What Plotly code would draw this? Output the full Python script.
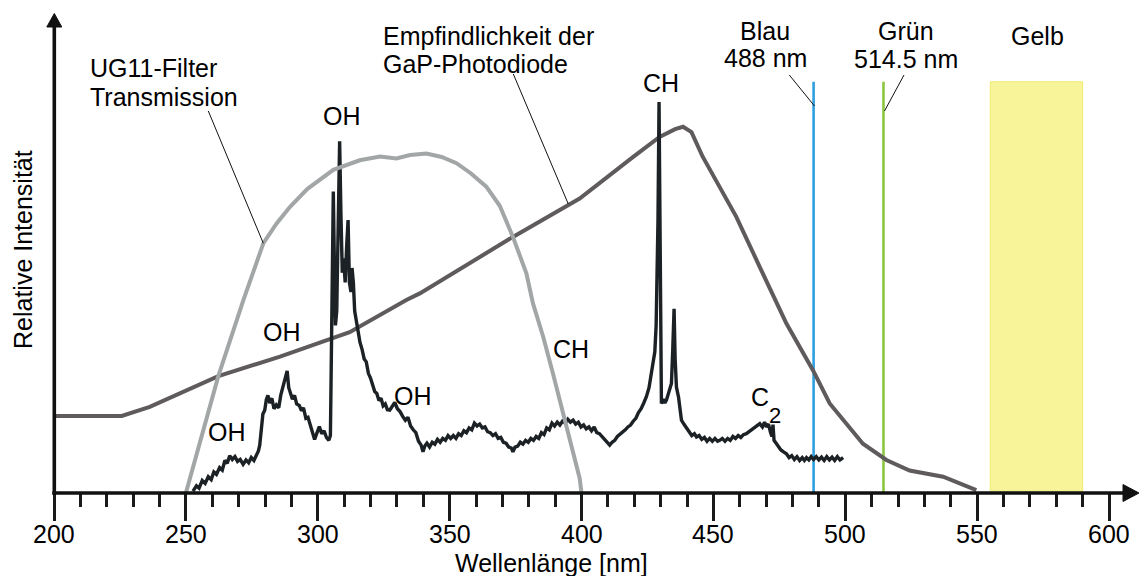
import plotly.graph_objects as go

# ---------------- data (wavelength in nm, relative intensity in arbitrary units) -------------
gap_nm = [200, 225.7, 236.3, 262.3, 285.7, 305.8, 312.1, 333.6, 338.7, 374.0, 394.3, 399.3,
          419.6, 429.6, 435.5, 438.5, 441.7, 445.9, 452.4, 458.7, 467.6, 477.7, 487.8, 494.1,
          506.7, 515.6, 524.4, 537.1, 549.7]
gap_val = [16.1, 16.1, 18.0, 24.4, 28.5, 32.3, 33.6, 40.3, 41.7, 53.5, 60.1, 61.5,
           70.2, 74.4, 76.0, 76.5, 75.4, 70.3, 63.9, 57.7, 47.2, 35.4, 25.6, 18.7,
           10.3, 6.9, 4.7, 3.4, 0.6]

ug11_nm = [250, 262.3, 271.8, 279.4, 284.4, 289.5, 296.0, 305.9, 315.9, 323.6, 329.8, 335.0,
           341.2, 347.0, 352.6, 358.0, 363.9, 369.0, 374.0, 379.1, 381.6, 385.5, 389.2, 394.3,
           399.3, 400]
ug11_val = [0.0, 24.4, 40.3, 52.2, 56.3, 59.8, 63.5, 67.5, 69.5, 70.3, 69.9, 70.6,
            70.9, 70.2, 68.9, 66.8, 64.0, 60.0, 53.5, 45.9, 39.6, 32.6, 24.9, 13.8,
            3.1, 0.0]

spectrum_points = [
    (252.7, 0.4), (254.0, 1.5), (255.0, 1.0), (256.2, 2.6), (257.3, 2.0), (258.5, 3.4),
    (259.6, 2.8), (260.6, 4.4), (261.6, 3.9), (262.8, 5.3), (263.8, 4.8), (264.8, 6.8),
    (265.7, 6.2), (266.6, 7.8), (267.6, 7.0), (268.6, 7.6), (269.6, 6.6), (270.6, 7.0),
    (271.7, 6.0), (272.8, 6.9), (273.8, 6.3), (274.8, 7.4), (275.8, 6.8), (276.7, 7.8),
    (277.5, 8.8), (278.0, 10.0), (278.6, 13.5), (279.2, 16.5), (279.9, 17.3), (280.5, 19.5),
    (281.1, 20.4), (281.8, 18.8), (282.6, 19.8), (283.4, 17.6), (284.3, 18.4), (285.2, 17.8),
    (286.0, 20.5), (286.8, 22.3), (287.6, 23.6), (288.4, 25.5), (289.0, 22.0), (289.7, 21.0),
    (290.4, 19.6), (291.2, 20.4), (292.0, 18.6), (293.0, 18.3), (293.8, 17.2), (294.6, 17.8),
    (295.5, 15.6), (296.3, 15.8), (297.1, 14.2), (297.9, 13.0), (298.8, 11.2), (299.6, 12.4),
    (300.6, 13.9), (301.5, 12.4), (302.4, 13.0), (303.3, 11.6), (304.2, 11.0), (304.8, 12.0),
    (305.2, 29.0), (305.6, 45.0), (305.9, 63.0), (306.3, 48.0), (306.7, 35.0), (307.2, 38.0),
    (307.8, 55.0), (308.3, 73.5), (308.8, 58.0), (309.3, 46.0), (309.8, 49.0), (310.4, 44.0),
    (311.0, 52.0), (311.5, 57.0), (312.0, 44.0), (312.6, 42.0), (313.0, 47.0), (313.5, 44.0),
    (314.0, 38.0), (314.6, 36.0), (315.3, 34.0), (316.0, 31.5), (316.8, 30.0), (317.6, 28.0),
    (318.4, 27.4), (319.2, 25.0), (320.0, 24.0), (320.8, 22.6), (321.6, 21.2), (322.4, 20.8),
    (323.2, 19.3), (324.0, 19.8), (324.8, 18.2), (325.6, 18.6), (326.4, 17.4), (327.3, 17.3),
    (328.2, 18.2), (329.2, 18.9), (330.2, 17.6), (331.2, 17.0), (332.2, 16.0), (333.2, 15.2),
    (334.2, 15.8), (335.2, 14.0), (336.2, 13.2), (337.2, 12.6), (338.2, 10.8), (339.2, 10.0),
    (339.9, 8.6), (340.6, 9.8), (341.4, 10.4), (342.4, 9.6), (343.4, 10.6), (344.4, 10.2),
    (345.4, 11.2), (346.4, 10.6), (347.4, 11.4), (348.4, 11.0), (349.4, 12.0), (350.4, 11.4),
    (351.4, 12.0), (352.4, 11.4), (353.4, 12.4), (354.4, 12.0), (355.4, 13.0), (356.4, 12.6),
    (357.4, 13.6), (358.4, 13.2), (359.4, 14.6), (360.4, 14.0), (361.4, 14.4), (362.4, 13.6),
    (363.4, 13.8), (364.4, 12.8), (365.4, 12.6), (366.4, 12.0), (367.4, 12.4), (368.4, 11.4),
    (369.4, 11.6), (370.4, 10.6), (371.4, 10.4), (372.4, 9.6), (373.4, 9.4), (374.0, 8.6),
    (374.8, 9.6), (375.8, 9.8), (376.8, 10.6), (377.8, 10.2), (378.8, 11.0), (379.8, 10.6),
    (380.8, 11.4), (381.8, 11.0), (382.8, 11.8), (383.8, 11.4), (384.8, 12.6), (385.8, 12.2),
    (386.8, 13.6), (387.8, 13.2), (388.8, 14.6), (389.8, 14.0), (390.8, 14.8), (391.8, 14.2),
    (392.8, 15.0), (393.8, 14.6), (394.8, 15.4), (395.8, 14.8), (396.8, 15.2), (397.8, 14.4),
    (398.8, 14.8), (399.8, 13.8), (400.8, 14.2), (401.8, 13.4), (402.8, 13.8), (403.8, 13.0),
    (404.8, 13.8), (405.8, 12.6), (406.8, 12.4), (407.8, 11.8), (408.8, 11.2), (409.8, 10.8),
    (410.7, 10.0), (411.6, 10.6), (412.6, 11.0), (413.6, 11.8), (414.6, 12.2), (415.6, 12.8),
    (416.6, 13.2), (417.6, 13.8), (418.6, 14.2), (419.6, 15.0), (420.6, 15.6), (421.6, 16.8),
    (422.6, 17.6), (423.6, 18.8), (424.6, 20.1), (425.6, 22.0), (426.4, 24.5), (427.2, 27.0),
    (427.8, 29.5), (428.3, 35.0), (428.7, 45.0), (429.0, 57.0), (429.4, 81.7), (429.7, 60.0),
    (430.0, 30.0), (430.3, 18.7), (431.0, 19.6), (431.6, 18.8), (432.2, 19.4), (432.8, 20.6),
    (433.5, 21.6), (434.1, 22.9), (434.6, 30.0), (435.1, 38.5), (435.5, 28.0), (436.0, 22.1),
    (436.8, 20.0), (437.4, 17.6), (437.9, 15.2), (438.8, 14.4), (439.8, 13.6), (440.8, 12.6),
    (441.8, 12.0), (442.8, 12.4), (443.6, 11.7), (444.6, 12.0), (445.6, 11.2), (446.6, 11.6),
    (447.6, 10.8), (448.6, 11.4), (449.6, 10.8), (450.6, 11.4), (451.6, 10.8), (452.4, 11.0),
    (453.4, 11.4), (454.4, 10.8), (455.4, 11.4), (456.4, 11.0), (457.4, 11.8), (458.4, 11.4),
    (459.4, 12.0), (460.4, 11.6), (461.4, 12.2), (462.5, 12.4), (463.5, 12.8), (464.5, 13.2),
    (465.5, 13.6), (466.5, 14.0), (467.6, 14.5), (468.6, 13.8), (469.4, 14.8), (470.1, 13.8),
    (470.9, 14.4), (471.6, 12.8), (472.2, 11.8), (472.6, 14.3), (473.0, 11.0), (473.8, 10.4),
    (474.6, 9.8), (475.6, 9.0), (476.6, 8.6), (477.7, 8.2), (478.7, 7.4), (479.7, 7.8),
    (480.7, 7.0), (481.7, 7.6), (482.7, 6.8), (483.7, 7.4), (484.5, 6.8), (485.3, 7.4),
    (486.2, 6.9), (487.1, 7.6), (488.0, 7.0), (489.0, 7.6), (490.0, 6.9), (491.0, 7.5),
    (492.0, 6.8), (493.0, 7.6), (494.0, 6.9), (495.0, 7.5), (496.0, 6.8), (497.0, 7.6),
    (498.0, 6.9), (499.2, 7.4),
]
spec_nm = [p[0] for p in spectrum_points]
spec_val = [p[1] for p in spectrum_points]

laser_nm = [488, 514.5]
laser_colors = ["#2f9fe0", "#8cc63f"]
laser_top = 85.9
yellow_band = [555, 590]

major_ticks = [200, 250, 300, 350, 400, 450, 500, 550, 600]
major_labels = [str(v) for v in major_ticks]
minor_ticks = [v for v in range(210, 600, 10) if v % 50 != 0]

# ---------------- geometry helpers (pixel <-> paper) ----------------
W, H = 1139, 576
ML, MR, MT, MB = 40, 0, 0, 83
PW, PH = W - ML - MR, H - MT - MB
PX_PER_NM = 2.6375
X200_PX = 54
PX_PER_UNIT = 4.787

x_range = [200 - (X200_PX - ML) / PX_PER_NM, 200 + (W - MR - X200_PX) / PX_PER_NM]
y_range = [0, PH / PX_PER_UNIT]


def pxx(px):
    return (px - ML) / PW


def pxy(py):
    return (H - MB - py) / PH


FONT = "Liberation Sans, Arial, Helvetica, sans-serif"

fig = go.Figure()

fig.add_trace(go.Scatter(x=gap_nm, y=gap_val, mode="lines",
                         line=dict(color="#5f5b5c", width=4), hoverinfo="skip"))
fig.add_trace(go.Scatter(x=spec_nm, y=spec_val, mode="lines",
                         line=dict(color="#1b2124", width=3.4), hoverinfo="skip"))
fig.add_trace(go.Scatter(x=ug11_nm, y=ug11_val, mode="lines",
                         line=dict(color="#a2a6a6", width=4), hoverinfo="skip"))

shapes = []
# yellow band
shapes.append(dict(type="rect", xref="x", yref="y", x0=yellow_band[0], x1=yellow_band[1],
                   y0=0.4, y1=laser_top, fillcolor="#f7f49a",
                   line=dict(color="#f1ec6c", width=1), layer="below"))
# laser lines
for xv, c in zip(laser_nm, laser_colors):
    shapes.append(dict(type="line", xref="x", yref="y", x0=xv, x1=xv, y0=0, y1=laser_top,
                       line=dict(color=c, width=2.6), layer="below"))

AX = "#111111"
# x axis line + arrow
shapes.append(dict(type="line", xref="paper", yref="paper", x0=pxx(52.3), x1=pxx(1126),
                   y0=pxy(493), y1=pxy(493), line=dict(color=AX, width=3.6), layer="above"))
shapes.append(dict(type="path", xref="paper", yref="paper",
                   path=f"M {pxx(1123)} {pxy(484.5)} L {pxx(1139)} {pxy(493)} L {pxx(1123)} {pxy(501.5)} Z",
                   fillcolor=AX, line=dict(color=AX, width=1), layer="above"))
# y axis line + arrow
shapes.append(dict(type="line", xref="paper", yref="paper", x0=pxx(54.3), x1=pxx(54.3),
                   y0=pxy(494.8), y1=pxy(26), line=dict(color=AX, width=3.6), layer="above"))
shapes.append(dict(type="path", xref="paper", yref="paper",
                   path=f"M {pxx(46.8)} {pxy(27)} L {pxx(54.3)} {pxy(13.5)} L {pxx(61.8)} {pxy(27)} Z",
                   fillcolor=AX, line=dict(color=AX, width=1), layer="above"))

# leader lines (label -> curve)
leaders = [((208.3, 111), (263.3, 243.3)),
           ((513.3, 74), (568.3, 204)),
           ((789.3, 75), (814.5, 106)),
           ((904, 75), (884.5, 111))]
for (xa, ya), (xb, yb) in leaders:
    shapes.append(dict(type="line", xref="paper", yref="paper", x0=pxx(xa), y0=pxy(ya),
                       x1=pxx(xb), y1=pxy(yb), line=dict(color="#111111", width=1)))

annotations = []


def label(text, px, py, anchor="center", size=25, angle=0):
    annotations.append(dict(text=text, xref="paper", yref="paper", x=pxx(px), y=pxy(py),
                            xanchor=anchor, yanchor="middle", showarrow=False,
                            textangle=angle, font=dict(family=FONT, size=size, color="#000000")))


# tick labels placed at the axis tick positions
for v, t in zip(major_ticks, major_labels):
    annotations.append(dict(text=t, xref="x", yref="paper", x=v, y=pxy(534),
                            xanchor="center", yanchor="middle", showarrow=False,
                            font=dict(family=FONT, size=25, color="#000000")))

label("UG11-Filter", 88.3, 68, "left")
label("Transmission", 88.3, 97, "left")
label("Empfindlichkeit der", 380.7, 35.5, "left")
label("GaP-Photodiode", 380.7, 64, "left")
label("OH", 341.7, 116)
label("CH", 660.7, 83)
label("Blau", 764.5, 30.5)
label("488 nm", 765, 58.5)
label("Grün", 906, 30.5)
label("514.5 nm", 906, 59)
label("Gelb", 1037.5, 35.5)
label("OH", 281.7, 332.3)
label("OH", 226.7, 432.3)
label("OH", 413.3, 395.7)
label("CH", 570.7, 348.7)
label("C", 760, 397.3)
label("2", 775, 415.7, size=22)
label("Wellenlänge [nm]", 551.7, 562.5)
label("Relative Intensität", 23, 250, angle=-90)

fig.update_layout(
    width=W, height=H,
    margin=dict(l=ML, r=MR, t=MT, b=MB, pad=0, autoexpand=False),
    paper_bgcolor="white", plot_bgcolor="white",
    showlegend=False,
    shapes=shapes,
    annotations=annotations,
    xaxis=dict(range=x_range, showgrid=False, zeroline=False, showline=False,
               tickmode="array", tickvals=major_ticks, ticktext=major_labels,
               showticklabels=False,
               ticks="outside", ticklen=27, tickwidth=2.7, tickcolor="#1a1a1a",
               minor=dict(tickvals=minor_ticks, ticks="outside", ticklen=13,
                          tickwidth=2.7, tickcolor="#1a1a1a", showgrid=False),
               fixedrange=True, automargin=False),
    yaxis=dict(range=y_range, showgrid=False, zeroline=False, showline=False,
               showticklabels=False, ticks="", fixedrange=True, automargin=False),
)

fig.write_html("out.html")
